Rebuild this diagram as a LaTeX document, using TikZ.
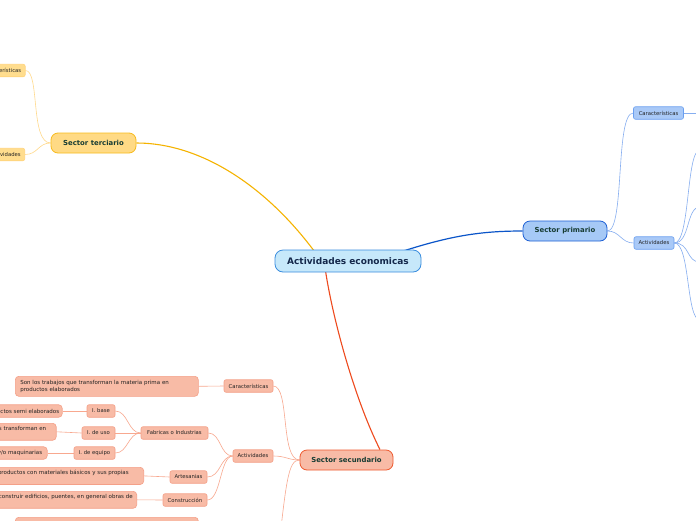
\documentclass[tikz,border=0pt]{standalone}
\usepackage{fontspec}
\setmainfont{DejaVu Sans}
\usetikzlibrary{calc}
\definecolor{rootF}{HTML}{C6E8FA}
\definecolor{rootB}{HTML}{3A8DDE}
\definecolor{rootT}{HTML}{14284B}
\definecolor{secT}{HTML}{173C33}
\definecolor{subT}{HTML}{222222}
\definecolor{primF}{HTML}{A6C9F6}
\definecolor{primB}{HTML}{1C5FD4}
\definecolor{primE}{HTML}{0B55C9}
\definecolor{primSF}{HTML}{A9C9F7}
\definecolor{primSB}{HTML}{6A9FF0}
\definecolor{primL}{HTML}{86AEF0}
\definecolor{terF}{HTML}{FFDA85}
\definecolor{terB}{HTML}{F7BB1D}
\definecolor{terE}{HTML}{F5B300}
\definecolor{terSF}{HTML}{FFDD8E}
\definecolor{terSB}{HTML}{FFD37A}
\definecolor{terL}{HTML}{FFDA8C}
\definecolor{secF}{HTML}{F8BBA6}
\definecolor{secB}{HTML}{EE5A2F}
\definecolor{secE}{HTML}{EE4A1E}
\definecolor{secSB}{HTML}{F4A088}
\definecolor{secL}{HTML}{F8A88F}
\pgfdeclarelayer{bg}
\pgfsetlayers{bg,main}
\begin{document}
\begin{tikzpicture}[x=1pt,y=-1pt,
  rootnode/.style={draw=rootB, fill=rootF, line width=0.8pt, rounded corners=8pt,
    minimum width=146pt, minimum height=22pt, inner sep=0pt,
    font=\fontsize{9}{10.5}\selectfont\bfseries, text=rootT},
  sector/.style={rounded corners=7pt, line width=0.8pt, minimum height=20pt, inner sep=0pt,
    font=\fontsize{6.9}{8}\selectfont\bfseries, text=secT},
  subnode/.style={rounded corners=2pt, line width=0.6pt, minimum height=12.5pt,
    inner xsep=3pt, inner ysep=0pt, font=\fontsize{5.3}{6.3}\selectfont, text=subT},
  tbox/.style={rounded corners=3.5pt, line width=0.6pt, inner xsep=5pt, inner ysep=3pt,
    font=\fontsize{5.5}{6.8}\selectfont, text=subT},
  cbox/.style={tbox, text width=300pt, align=right},
  pS/.style={subnode, draw=primSB, fill=primSF},
  tS/.style={subnode, draw=terSB, fill=terSF},
  sS/.style={subnode, draw=secSB, fill=secF},
  sT/.style={tbox, draw=secSB, fill=secF},
  sC/.style={cbox, draw=secSB, fill=secF},
  pline/.style={draw=primL, line width=0.6pt},
  tline/.style={draw=terL, line width=0.6pt},
  sline/.style={draw=secL, line width=0.6pt}
]
\useasboundingbox (0,0) rectangle (696,520);
\clip (0,0) rectangle (696,520);

% main nodes
\node[rootnode] (root) at (348,261) {Actividades economicas};
\node[sector, draw=primB, fill=primF, minimum width=84pt] (prim) at (565,231) {Sector primario};
\node[sector, draw=terB, fill=terF, minimum width=85pt] (ter) at (93.5,143) {Sector terciario};
\node[sector, draw=secB, fill=secF, minimum width=93pt] (sec) at (346.5,460) {Sector secundario};

% primario children
\node[pS, minimum width=50pt] (pcar) at (658.5,113) {Características};
\node[pS, minimum width=40pt] (pact) at (654,243) {Actividades};
\coordinate (pcarX) at (700,113);
\coordinate (pa1) at (700,150);
\coordinate (pa2) at (700,207);
\coordinate (pa3) at (700,262);
\coordinate (pa4) at (700,320);

% terciario children
\node[tS, anchor=east, inner xsep=4pt] (tcar) at (25.5,70.5) {Características};
\node[tS, anchor=east, inner xsep=4pt] (tact) at (25,154.5) {Actividades};

% secundario children
\node[sS, minimum width=49pt] (scar) at (248.5,386) {Características};
\node[sT, anchor=north west, text width=173pt, align=left, minimum height=20pt] (scart) at (15,376)
  {Son los trabajos que transforman la materia prima en\\productos elaborados};
\node[sS, minimum width=40pt] (sact) at (253,456) {Actividades};
\node[sS, minimum width=67pt] (fab) at (174.5,433) {Fabricas o Industrias};
\node[sS, minimum width=28pt] (ib) at (101,411) {I. base};
\node[sS, minimum width=33pt] (iu) at (98.5,433) {I. de uso};
\node[sS, minimum width=41pt] (ie) at (94.5,453) {I. de equipo};
\node[sS, minimum width=37pt] (art) at (188.5,477) {Artesanias};
\node[sS, minimum width=44pt] (con) at (185,500) {Construcción};
\node[sC, anchor=east, inner xsep=3pt, minimum height=12.5pt, inner ysep=0pt] (ibt) at (62.5,411) {ctos semi elaborados};
\node[sC, anchor=north east, inner xsep=10pt] (iut) at (56.5,423) {s transforman en\\\mbox{}};
\node[sC, anchor=east, inner xsep=5pt, minimum height=12.5pt, inner ysep=0pt] (iet) at (47.5,453) {y/o maquinarias};
\node[sC, anchor=north east, inner xsep=15pt] (artt) at (144,467) {productos con materiales básicos y sus propias\\\mbox{}};
\node[sC, anchor=north east, inner xsep=4pt] (cont) at (137,491) {construir edificios, puentes, en general obras de\\\mbox{}};
\node[sT, anchor=north west, minimum width=183pt, minimum height=20pt] (sbot) at (15,517) {};
\coordinate (secd) at (276,575);

\begin{pgfonlayer}{bg}
\fill[white] (0,0) rectangle (696,520);
% main edges
\draw[primE, line width=1.2pt] ($(root.north east)+(-20,2)$) .. controls (450,236) and (480,231) .. (prim.west);
\draw[terE, line width=1.1pt] (ter.east) .. controls (200,143) and (265,185) .. ($(root.north west)+(40,2)$);
\draw[secE, line width=1.1pt] ($(root.south west)+(51,-1)$) .. controls (333,320) and (355,400) .. ($(sec.north)+(33.5,0)$);
% primario
\draw[pline] (prim.east) .. controls (625,231) and (615,113) .. (pcar.west);
\draw[pline] (prim.east) .. controls (620,231) and (621,243) .. (pact.west);
\draw[pline] (pcar.east) -- (pcarX);
\foreach \c in {pa1,pa2,pa3,pa4}
  \draw[pline] (pact.east) .. controls +(16,0) and +(-14,0) .. (\c);
% terciario
\draw[tline] (tcar.east) .. controls (40,70.5) and (30,143) .. (ter.west);
\draw[tline] (tact.east) .. controls (38,154.5) and (38,143) .. (ter.west);
% secundario
\draw[sline] (scar.east) .. controls (290,386) and (280,460) .. (sec.west);
\draw[sline] (sact.east) .. controls (286,456) and (288,460) .. (sec.west);
\draw[sline] (sec.west) .. controls (288,460) and (286,480) .. (secd);
\draw[sline] (scart.east) -- (scar.west);
\draw[sline] (fab.east) .. controls (221,433) and (220,456) .. (sact.west);
\draw[sline] (art.east) .. controls (221,477) and (220,456) .. (sact.west);
\draw[sline] (con.east) .. controls (221,500) and (220,456) .. (sact.west);
\draw[sline] (ib.east) .. controls (128,411) and (128,433) .. (fab.west);
\draw[sline] (iu.east) -- (fab.west);
\draw[sline] (ie.east) .. controls (128,453) and (128,433) .. (fab.west);
\draw[sline] (ibt.east) -- (ib.west);
\draw[sline] (iut.east) -- (iu.west);
\draw[sline] (iet.east) -- (ie.west);
\draw[sline] (artt.east) -- (art.west);
\draw[sline] (cont.east) -- (con.west);
\end{pgfonlayer}
\end{tikzpicture}
\end{document}
